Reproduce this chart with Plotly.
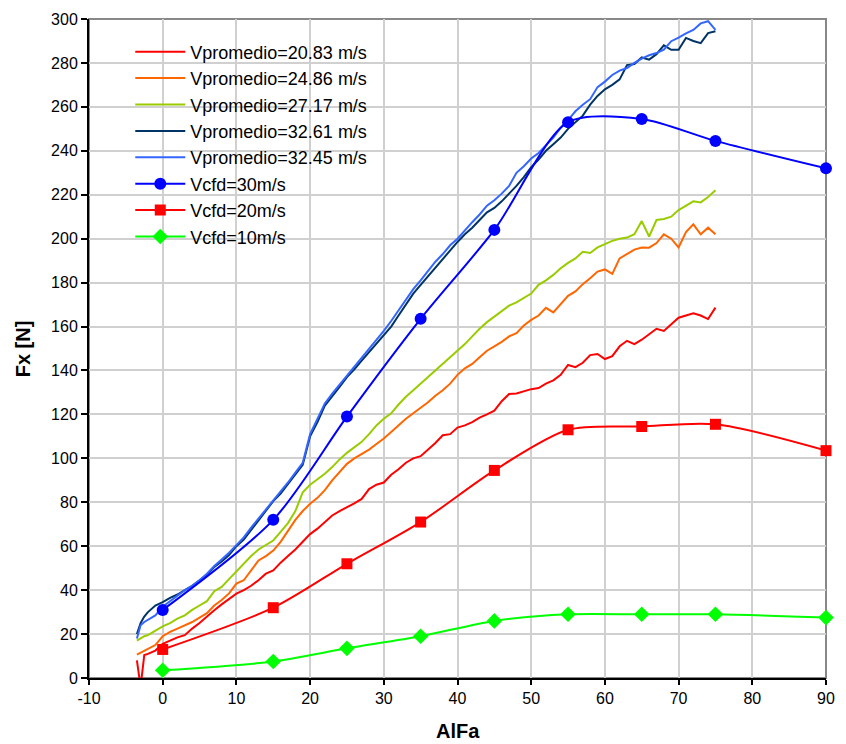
import plotly.graph_objects as go

# ---------------- data ----------------
alfa_exp = [-3.5, -3, -2.5, -2, -1] + list(range(0, 76))

fx_v2083 = [8, -4, 10.5, 11, 12.5,
            15.5, 17, 18.5, 19.5, 22.5, 25, 28, 30.8, 33.5, 36,
            38.4, 40, 42, 44.5, 47.5, 49, 52.5, 55.5, 58.5, 62,
            65.5, 68, 71, 74, 76, 77.7, 79.5, 81.5, 86, 88,
            89, 92.5, 95, 98, 100, 101, 104, 107, 110.5, 111,
            114, 115, 116.5, 118.5, 120, 121.7, 126, 129.3, 129.5, 130.5,
            131.5, 132, 134, 135.5, 138, 142.5, 141.5, 143.5, 147, 147.5,
            145.2, 146.5, 151, 153.5, 152, 154, 156.5, 159, 158, 161,
            164, 165, 166, 165, 163.4, 168.6]

fx_v2486 = [10.6, 11.5, 12.2, 13.2, 15,
            19, 21, 22.5, 24, 25.5, 27.5, 29.5, 33, 35.5, 38.5,
            43, 44.5, 49, 53.5, 55.5, 58, 62, 67, 72, 76,
            79.3, 82, 85.5, 90, 94, 97.5, 100, 102, 104, 106.5,
            109, 112, 115, 118, 120.5, 123, 125.5, 128.5, 131, 134,
            138, 141, 143, 146, 149, 151, 153, 155.5, 157, 160.5,
            163, 165, 168.5, 166.4, 170, 174, 176, 179.3, 182, 185,
            186, 184, 191, 193, 195, 196, 195.9, 198, 202, 200,
            196, 203, 206.5, 202, 205, 202]

fx_v2717 = [17, 18, 19, 19.5, 21.5,
            23.5, 25, 27, 28.5, 31, 33, 35, 39.5, 41.5, 45,
            48.5, 52, 55.5, 58.5, 60.5, 62.6, 66.5, 70.5, 76, 84.5,
            88, 90.5, 93, 96, 99.5, 102.5, 105, 107.5, 111, 115,
            118, 120.5, 124.5, 128, 131, 134, 137, 140, 143, 146,
            149, 152, 155.5, 159, 162, 164.5, 167, 169.5, 171, 173,
            175, 179, 181, 183.5, 186.5, 189, 191, 194, 193.5, 196,
            197.5, 199, 200, 200.5, 202, 208, 201, 208.5, 209, 210,
            213, 215, 217, 216.5, 219, 222]

fx_v3261 = [20, 25, 28, 30, 33,
            34.5, 36.5, 38, 40, 42, 44.5, 47, 50.5, 53, 56,
            60, 63, 67.5, 72, 76, 80.5, 84, 88.5, 93, 97,
            110, 116.5, 124, 128, 132.5, 137, 140.5, 144.5, 148.5, 152,
            156, 160, 165, 170, 175, 179, 183, 187, 190.5, 195,
            198.5, 202, 205, 208.5, 212, 214, 217, 220.5, 224, 228,
            232.5, 236, 240, 243, 246, 250, 253, 256, 261, 265,
            268, 270, 272.5, 279, 279.5, 282.5, 281.5, 284, 288, 286,
            286, 291.4, 290, 289, 293.6, 294.4]

fx_v3245 = [18, 24, 25.5, 26.5, 28.5,
            32.5, 35, 37.5, 40, 42, 44.5, 47.5, 51, 54, 57,
            60.5, 64, 68.5, 72.5, 77, 81, 84.5, 89, 93.5, 98,
            111, 118, 125, 129.5, 133.5, 138, 142, 146, 150, 154,
            158, 162.5, 167.5, 172, 177, 181, 185.5, 189.5, 193, 197,
            200, 204, 207.5, 211, 215, 217.5, 220.5, 224, 230, 233,
            236.5, 239, 242.5, 246, 250.5, 254, 258, 261, 263.5, 269,
            271.5, 274.5, 276.5, 277.7, 280, 282, 283.5, 284.5, 286, 289.9,
            291.5, 293.5, 295, 298, 299, 295]

alfa_cfd = [0, 15, 25, 35, 45, 55, 65, 75, 90]
fx_cfd30 = [31, 72, 119, 163.5, 204, 253, 254.5, 244.5, 232]
fx_cfd20 = [13, 32, 52, 71, 94.5, 113, 114.5, 115.5, 103.5]
fx_cfd10 = [3.5, 7.5, 13.5, 19, 26, 29, 29, 29, 27.5]

x_ticks = list(range(-10, 91, 10))
y_ticks = list(range(0, 301, 20))

FONT = "Liberation Sans, Arial, sans-serif"

fig = go.Figure()

exp_series = [
    ("Vpromedio=20.83 m/s", fx_v2083, "#FF0000"),
    ("Vpromedio=24.86 m/s", fx_v2486, "#FF6600"),
    ("Vpromedio=27.17 m/s", fx_v2717, "#99CC00"),
    ("Vpromedio=32.61 m/s", fx_v3261, "#003366"),
    ("Vpromedio=32.45 m/s", fx_v3245, "#3366FF"),
]
for name, ys, col in exp_series:
    fig.add_trace(go.Scatter(x=alfa_exp, y=ys, name=name, mode="lines",
                             line=dict(color=col, width=2)))

cfd_series = [
    ("Vcfd=30m/s", fx_cfd30, "#0000FF", "circle", 12),
    ("Vcfd=20m/s", fx_cfd20, "#FF0000", "square", 11),
    ("Vcfd=10m/s", fx_cfd10, "#00FF00", "diamond", 12),
]
for name, ys, col, sym, sz in cfd_series:
    fig.add_trace(go.Scatter(x=alfa_cfd, y=ys, name=name, mode="lines+markers",
                             line=dict(color=col, width=2, shape="spline", smoothing=0.8),
                             marker=dict(symbol=sym, size=sz, color=col,
                                         line=dict(width=0)),
                             cliponaxis=False))

fig.update_layout(
    width=846, height=744,
    margin=dict(l=89, r=11, t=17, b=66),
    paper_bgcolor="white", plot_bgcolor="white",
    font=dict(family=FONT, size=16, color="#000000"),
    showlegend=True,
    legend=dict(x=0.056, y=0.978, xanchor="left", yanchor="top",
                bgcolor="rgba(255,255,255,0)", borderwidth=0,
                font=dict(family=FONT, size=18, color="#000000"),
                tracegroupgap=0, itemwidth=50),
    xaxis=dict(range=[-10, 90], tickvals=x_ticks, ticktext=[str(v) for v in x_ticks],
               showgrid=True, gridcolor="#D0D0D0", gridwidth=1.5, zeroline=False,
               showline=True, linecolor="#000000", linewidth=2,
               ticks="outside", ticklen=5, tickcolor="#000000", tickwidth=1.5,
               tickfont=dict(family=FONT, size=16)),
    yaxis=dict(range=[0, 300], tickvals=y_ticks, ticktext=[str(v) for v in y_ticks],
               showgrid=True, gridcolor="#D0D0D0", gridwidth=1.5, zeroline=False,
               showline=True, linecolor="#000000", linewidth=2,
               ticks="outside", ticklen=6, tickcolor="#000000", tickwidth=1.5,
               tickfont=dict(family=FONT, size=16)),
    shapes=[
        dict(type="rect", xref="x domain", yref="y domain", x0=0, x1=1, y0=0, y1=1,
             line=dict(color="#888888", width=2), fillcolor="rgba(0,0,0,0)",
             layer="below"),
        # white legend box covering the grid
        dict(type="rect", xref="paper", yref="paper", x0=0.0255, x1=0.433,
             y0=0.663, y1=0.965, line=dict(width=0), fillcolor="white",
             layer="between"),
    ],
    annotations=[
        dict(text="<b>AlFa</b>", xref="paper", yref="paper", x=0.5, y=-0.080,
             xanchor="center", yanchor="middle", showarrow=False,
             font=dict(family=FONT, size=20, color="#000000")),
        dict(text="<b>Fx [N]</b>", xref="paper", yref="paper", x=-0.0898, y=0.5,
             xanchor="center", yanchor="middle", showarrow=False, textangle=-90,
             font=dict(family=FONT, size=20, color="#000000")),
    ],
)

fig.write_html("out.html", config={"displayModeBar": False},
               post_script="document.body.style.margin='0px';")
